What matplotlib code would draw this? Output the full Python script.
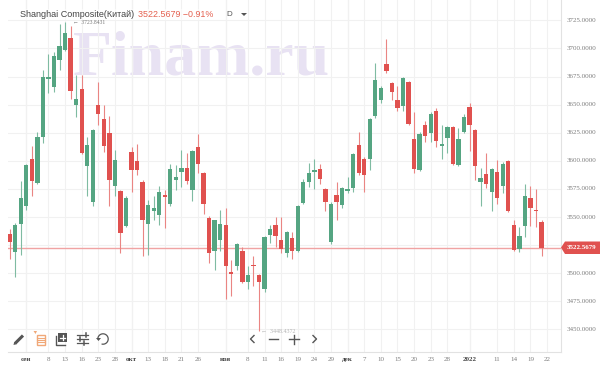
import matplotlib
matplotlib.use('Agg')
import matplotlib.pyplot as plt
import numpy as np
from matplotlib.patches import Rectangle, Polygon

# дневные свечи, значения
opens = [3535, 3519, 3544, 3560, 3602, 3580, 3621, 3673, 3666, 3690, 3698.5, 3709, 3650, 3664, 3595, 3563, 3650, 3637, 3625, 3578,
         3573, 3542, 3608, 3600, 3581, 3544, 3555, 3552, 3570, 3562, 3583, 3590, 3594, 3574, 3612, 3589, 3549, 3520, 3530, 3543,
         3501, 3506, 3520, 3492, 3507, 3498, 3486, 3534, 3543, 3530, 3518, 3531, 3520, 3562.5, 3581, 3590, 3593, 3575, 3528, 3570,
         3561, 3573.5, 3576, 3614, 3602, 3602, 3640, 3654, 3686, 3669, 3654, 3649, 3670, 3619, 3592, 3632, 3625, 3644, 3613, 3620,
         3630, 3596, 3626, 3648, 3627, 3581, 3588, 3572, 3590, 3578, 3600, 3543, 3522, 3542, 3567, 3556, 3546]
highs = [3539, 3545, 3582, 3597, 3613, 3626, 3681, 3695, 3697, 3722, 3723.8431, 3720, 3676, 3676, 3621, 3628, 3670, 3650, 3640, 3610,
         3574, 3569, 3612, 3615, 3583, 3565, 3569, 3578, 3574, 3597, 3596, 3610, 3607, 3610, 3624, 3590, 3551, 3547, 3556, 3558,
         3512, 3527, 3523, 3506, 3515, 3499, 3533, 3543, 3550, 3550, 3538, 3537, 3561, 3584, 3598, 3602, 3597, 3576, 3563, 3581,
         3577, 3586, 3607, 3626, 3603, 3638, 3687, 3667, 3708, 3670, 3667, 3675, 3671, 3643, 3626, 3635, 3643, 3647, 3632, 3631,
         3631, 3629, 3642, 3651, 3628, 3594, 3607, 3594, 3601, 3599, 3601, 3547, 3541, 3579, 3578, 3575, 3547]
lows = [3513, 3497, 3516, 3556, 3569, 3579, 3616, 3660, 3661, 3681, 3698, 3655, 3639, 3606, 3569, 3560, 3632, 3608, 3560, 3569,
        3518, 3541, 3572, 3587, 3515, 3516, 3547, 3543, 3540, 3560, 3574, 3577, 3579, 3564, 3589, 3553, 3509, 3503, 3520, 3477,
        3480, 3503, 3491, 3486, 3489, 3448.4372, 3483, 3527, 3523, 3518, 3514, 3513, 3519, 3562, 3577, 3575, 3579, 3555, 3526, 3547,
        3558, 3571, 3572, 3587, 3572, 3592, 3638, 3651, 3678, 3654, 3644, 3644, 3632, 3589, 3591, 3617, 3617, 3612, 3602, 3607,
        3596, 3595, 3625, 3609, 3583, 3560, 3576, 3555, 3562, 3571, 3554.5, 3520, 3519, 3532, 3542, 3541, 3515]
closes = [3528, 3543, 3567, 3596, 3582, 3621, 3675, 3675, 3693, 3702, 3714, 3662, 3655, 3607, 3614, 3627, 3642, 3613, 3583, 3601,
          3536, 3567, 3592, 3592, 3547, 3561, 3558, 3572, 3568, 3593, 3586, 3594, 3582, 3609, 3597, 3562, 3518, 3547, 3544, 3506,
          3499, 3526, 3492, 3498, 3506, 3492, 3532, 3539, 3533, 3522, 3537, 3520, 3560, 3581, 3589, 3592, 3584, 3563, 3562, 3563,
          3576, 3574, 3606, 3589, 3587, 3637, 3672, 3665, 3680, 3661, 3647, 3674, 3632.5, 3593, 3624, 3622, 3642, 3618, 3615, 3630,
          3597, 3619, 3639, 3632, 3595, 3585, 3579, 3593, 3567, 3597, 3555, 3521, 3533, 3569, 3558, 3555, 3522.5679]

tick_pos = [3, 7, 10, 13, 16, 19, 22, 25, 28, 31, 34, 39, 43, 46, 49, 52, 55, 58, 61, 64, 67, 70, 73, 76, 79, 83, 88, 91, 94, 97]
tick_labels = ['сен', '8', '13', '16', '23', '28', 'окт', '13', '18', '21', '26', 'ноя', '8', '11', '16', '19', '24', '29',
               'дек', '7', '10', '15', '20', '23', '28', '2022', '11', '14', '19', '22']
y_ticks = [3450, 3475, 3500, 3525, 3550, 3575, 3600, 3625, 3650, 3675, 3700, 3725]
last_price = 3522.5679

GREEN = '#55a582'
RED = '#e0514f'
GREY = '#7d7d7d'

plt.rcParams['font.family'] = ['Liberation Sans', 'DejaVu Sans']

fig = plt.figure(figsize=(6, 3.71), dpi=100)
ax = fig.add_axes([8 / 600, 19.3 / 371, 552.6 / 600, 351.7 / 371])
ax.set_xlim(-0.3, 99.44)
ax.set_ylim(3430.2, 3743.06)

# сетка
ax.set_xticks(tick_pos)
ax.set_yticks(y_ticks)
ax.grid(True, color='#f1f1f1', lw=0.8, zorder=0)
ax.tick_params(length=0, labelleft=False, labelbottom=False)
for s in ['top', 'left']:
    ax.spines[s].set_visible(False)
for s in ['right', 'bottom']:
    ax.spines[s].set_color('#e2e2e2')
    ax.spines[s].set_linewidth(0.8)

# вертикаль начала месяца темнее
for p, l in zip(tick_pos, tick_labels):
    if not l.isdigit() or l == '2022':
        ax.axvline(p, color='#e6e6e6', lw=0.8, zorder=0.5)

# водяной знак
ax.text(0.1175, 0.832, 'Finam.ru', transform=ax.transAxes, family='Liberation Serif', weight='bold',
        fontsize=46, color='#e8e2f3', ha='left', va='center', zorder=1)

# свечи
x = np.arange(len(opens))
o = np.array(opens)
c = np.array(closes)
colors = [GREEN if cc >= oo else RED for oo, cc in zip(o, c)]
wick_colors = ['#7fbba2' if cc >= oo else '#ea8583' for oo, cc in zip(o, c)]
ax.axhline(last_price, color='#f0a3a3', lw=1.0, zorder=2)
ax.vlines(x, lows, highs, colors=wick_colors, lw=0.8, zorder=3)
ax.bar(x, np.maximum(np.abs(c - o), 1.2), bottom=np.minimum(o, c), width=0.78, color=colors, linewidth=0, zorder=4)

# подписи осей
for v in y_ticks:
    if v != 3525:
        ax.annotate('%.4f' % v, (1, v), xycoords=('axes fraction', 'data'), xytext=(4.6, 0), textcoords='offset points',
                    family='Liberation Serif', fontsize=5, color=GREY, ha='left', va='center', annotation_clip=False)
for p, l in zip(tick_pos, tick_labels):
    month = not l.isdigit() or l == '2022'
    ax.annotate(l, (p, 0), xycoords=('data', 'axes fraction'), xytext=(0, -5.8), textcoords='offset points',
                family='Liberation Serif', fontsize=5, color='#444444' if month else GREY,
                weight='bold' if month else 'normal', ha='center', va='center', annotation_clip=False)

# экстремумы
ax.annotate('←  %.4f' % max(highs), (10, max(highs)), xytext=(5.5, -1), textcoords='offset points', fontsize=4.1,
            color='#777777', family=['Liberation Serif', 'DejaVu Sans'], va='center', zorder=6)
ax.annotate('←  %.4f' % min(lows), (45, min(lows)), xytext=(1.5, 0), textcoords='offset points', fontsize=4.3,
            color='#b5b5b5', family=['Liberation Serif', 'DejaVu Sans'], va='center', zorder=6)

# слой в пикселях: заголовок, плашка цены, панель инструментов
ov = fig.add_axes([0, 0, 1, 1], facecolor='none')
ov.set_xlim(0, 600)
ov.set_ylim(371, 0)
ov.axis('off')

ov.add_patch(Rectangle((14, 9), 205, 11, color='white', alpha=0.55, lw=0))
ov.text(20, 14.5, 'Shanghai Composite(Китай)', fontsize=6.45, color='#444444', va='center')
ov.text(137.5, 14.5, '%.4f −0.91%%' % last_price, fontsize=6.4, color='#e4604f', va='center')
ov.text(226.5, 14.5, 'D', fontsize=5.8, color='#555555', va='center')
ov.add_patch(Polygon([[241, 13], [247, 13], [244, 16]], color='#555555', lw=0))

ov.add_patch(Polygon([[561, 247.6], [565, 241.5], [600, 241.5], [600, 254], [565, 254]], color=RED, lw=0))
ov.text(582, 247.8, '%.4f' % last_price, family='Liberation Serif', fontsize=5, color='white', ha='center', va='center', weight='bold')

# карандаш
ov.plot([15, 23], [343.5, 335.5], color='#555555', lw=2.2, solid_capstyle='butt')
ov.add_patch(Polygon([[13.5, 345], [14.2, 342], [16.4, 344.2]], color='#555555', lw=0))
# список
ov.add_patch(Rectangle((37, 334.5), 8, 10, fill=False, ec='#f0a878', lw=1))
for yy in [337.5, 339.5, 341.8]:
    ov.plot([37, 45], [yy, yy], color='#f0a878', lw=0.8)
ov.add_patch(Polygon([[33.5, 331], [37, 331], [35.5, 334]], color='#f0a878', lw=0))
# слои
ov.add_patch(Rectangle((58, 333), 9, 9, color='#555555', lw=0))
ov.plot([62.5, 62.5], [334.8, 340.2], color='white', lw=0.9)
ov.plot([59.8, 65.2], [337.5, 337.5], color='white', lw=0.9)
ov.plot([55.5, 55.5, 64.5], [336, 344.5, 344.5], color='#555555', lw=1)
# настройки
for yy, xx in [(335, 86), (339, 80), (343, 84)]:
    ov.plot([76.5, 88], [yy, yy], color='#555555', lw=0.9)
    ov.plot([xx, xx], [yy - 1.8, yy + 1.8], color='#555555', lw=1.1)
# отмена
t = np.linspace(-2.4, 2.4, 30)
ov.plot(103 + 5.2 * np.cos(t + np.pi / 2 - 0.9), 339 - 5.2 * np.sin(t + np.pi / 2 - 0.9), color='#555555', lw=0.9)
ov.add_patch(Polygon([[96, 338], [101, 338], [98.5, 341]], color='#555555', lw=0))

# навигация
ov.plot([254, 250.5, 254], [335.5, 339, 342.5], color='#555555', lw=1)
ov.plot([269, 278], [339, 339], color='#555555', lw=1)
ov.plot([289, 299], [339, 339], color='#555555', lw=1)
ov.plot([294, 294], [334.5, 343.5], color='#555555', lw=1)
ov.plot([313, 316.5, 313], [335.5, 339, 342.5], color='#555555', lw=1)

fig.savefig('out.png', dpi=100)
